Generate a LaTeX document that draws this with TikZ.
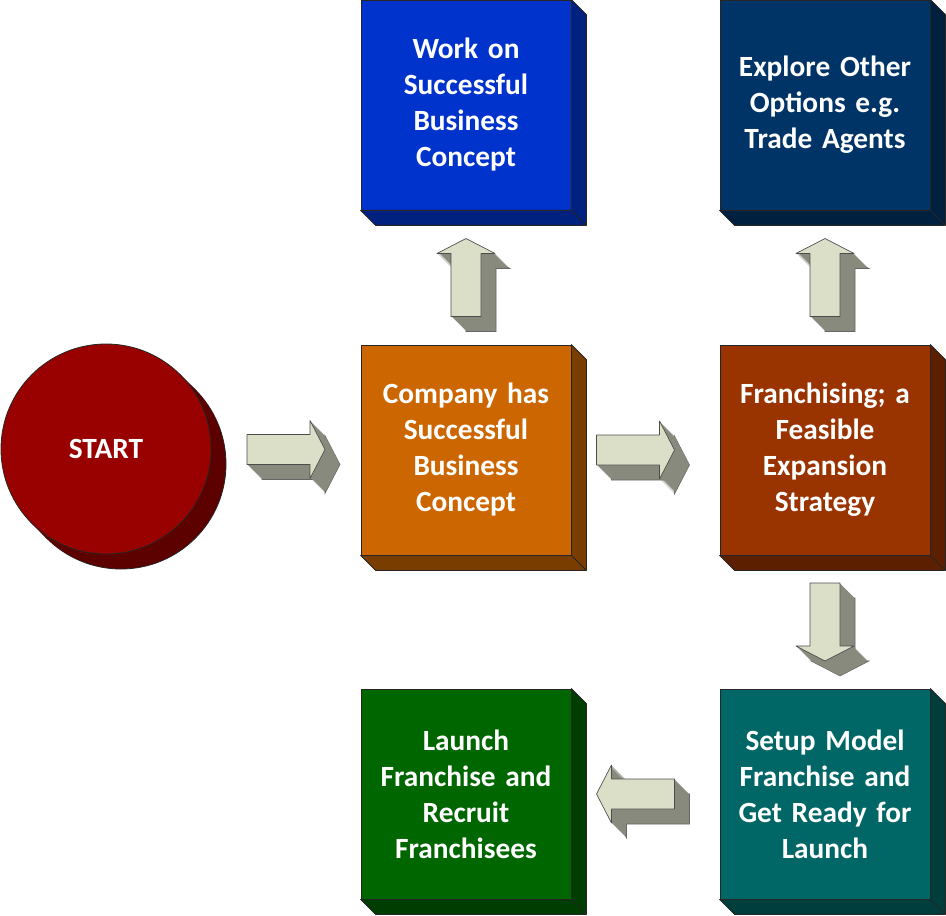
\documentclass[tikz,border=0pt]{standalone}
\usepackage{fontspec}
\setmainfont{Carlito}
\usetikzlibrary{calc}

\definecolor{workface}{HTML}{0033CC}
\definecolor{workside}{HTML}{00217F}
\definecolor{exploreface}{HTML}{003366}
\definecolor{exploreside}{HTML}{00203F}
\definecolor{companyface}{HTML}{CC6600}
\definecolor{companyside}{HTML}{7A3D00}
\definecolor{franchface}{HTML}{993300}
\definecolor{franchside}{HTML}{5C1F00}
\definecolor{setupface}{HTML}{006666}
\definecolor{setupside}{HTML}{003D3D}
\definecolor{launchface}{HTML}{006600}
\definecolor{launchside}{HTML}{003D00}
\definecolor{startface}{HTML}{990000}
\definecolor{startside}{HTML}{5C0000}
\definecolor{arrowface}{HTML}{DCDFC8}
\definecolor{arrowside}{HTML}{878A7C}

\begin{document}
\begin{tikzpicture}[
    x=0.75pt, y=-0.75pt,
    edge/.style={draw=black!85, line width=0.6pt, line join=round},
    box/.style={edge, minimum width=157.5pt, minimum height=157.5pt,
                text width=150pt, align=center, inner sep=0pt, text=white,
                font=\bfseries\fontsize{22}{27}\selectfont},
    disc/.style={edge, circle, minimum size=157.5pt, inner sep=0pt, text=white,
                 font=\bfseries\fontsize{22}{27}\selectfont},
    blockarrow/.pic={
      \filldraw[fill=arrowside, draw=black!60, line width=0.4pt, shift={(15,15)}, rotate=#1]
        (-39,-15) -- (24,-15) -- (24,-29) -- (39,0) -- (24,29) -- (24,15) -- (-39,15) -- cycle;
      \foreach \k in {14,...,1}
        \fill[arrowside, shift={(\k,\k)}, rotate=#1]
          (-39,-15) -- (24,-15) -- (24,-29) -- (39,0) -- (24,29) -- (24,15) -- (-39,15) -- cycle;
      \filldraw[fill=arrowface, draw=black!70, line width=0.5pt, line join=round, rotate=#1]
        (-39,-15) -- (24,-15) -- (24,-29) -- (39,0) -- (24,29) -- (24,15) -- (-39,15) -- cycle;
    },
  ]
  \useasboundingbox (0,0) rectangle (946,916);

  % start disc with its depth
  \coordinate (startc) at (106,449);
  \filldraw[fill=startside, draw=black!85, line width=0.6pt] ($(startc)+(15,15)$) circle[radius=105];
  \foreach \k in {14,...,1}
    \fill[startside] ($(startc)+(\k,\k)$) circle[radius=105];
  \node[disc, fill=startface] (start) at (startc) {START};

  % boxes
  \node[box, fill=workface] (work) at (466,105) {Work on\\Successful\\Business\\Concept};
  \node[box, fill=exploreface] (explore) at (825,105) {Explore Other\\Options e.g.\\Trade Agents};
  \node[box, fill=companyface] (company) at (466,450) {Company has\\Successful\\Business\\Concept};
  \node[box, fill=franchface] (franch) at (825,450) {Franchising; a\\Feasible\\Expansion\\Strategy};
  \node[box, fill=launchface] (launch) at (466,794) {Launch\\Franchise and\\Recruit\\Franchisees};
  \node[box, fill=setupface] (setup) at (825,794) {Setup Model\\Franchise and\\Get Ready for\\Launch};

  % depth of the boxes
  \foreach \n in {work, explore, company, franch, launch, setup}{
    \filldraw[edge, fill=\n side] (\n.north east) -- ++(15,15)
      -- ([shift={(15,15)}]\n.south east) -- ([shift={(15,15)}]\n.south west)
      -- (\n.south west) -- (\n.south east) -- cycle;
    \draw[edge] (\n.south east) -- ++(15,15);
  }

  % block arrows
  \path ($(start.east)!0.5!(company.west)$) pic {blockarrow=0};
  \path ($(company.east)!0.5!(franch.west)+(-10,0)$) pic {blockarrow=0};
  \path ($(company.north)!0.5!(work.south)$) pic {blockarrow=90};
  \path ($(franch.north)!0.5!(explore.south)$) pic {blockarrow=90};
  \path ($(franch.south)!0.5!(setup.north)$) pic {blockarrow=-90};
  \path ($(setup.west)!0.5!(launch.east)+(-10,0)$) pic {blockarrow=180};
\end{tikzpicture}
\end{document}
